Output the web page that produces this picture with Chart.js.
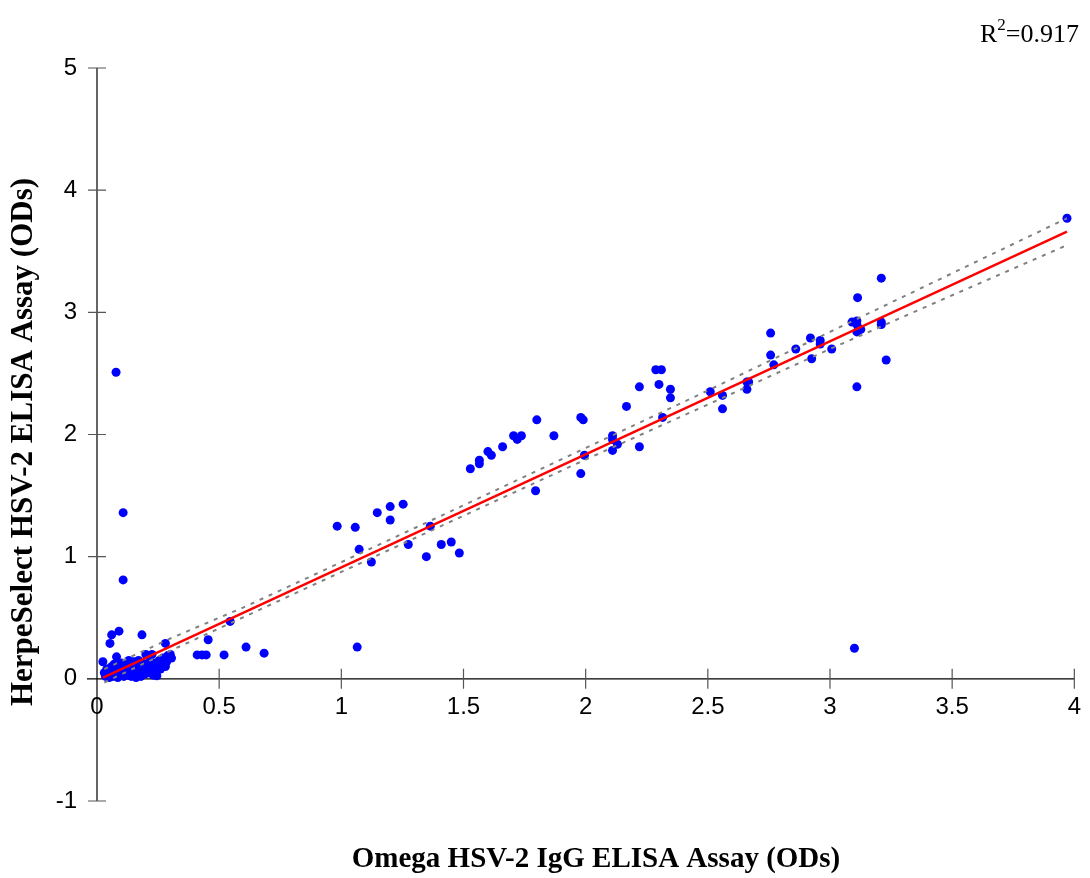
<!DOCTYPE html>
<html>
<head>
<meta charset="utf-8">
<title>HerpeSelect vs Omega HSV-2</title>
<script src="https://cdn.jsdelivr.net/npm/chart.js@4.4.1/dist/chart.umd.min.js"></script>
<style>
    html, body { margin: 0; padding: 0; background: #fff; }
    #grafico { display: block; }
</style>
</head>
<body>
<canvas id="grafico" width="1090" height="878"></canvas>
<script>
//DATOS
const xTitulo = "Omega HSV-2 IgG ELISA Assay (ODs)";
const yTitulo = "HerpeSelect HSV-2 ELISA Assay (ODs)";
const r2Valor = "=0.917";

const xTicks = [0, 0.5, 1, 1.5, 2, 2.5, 3, 3.5, 4];
const yTicks = [-1, 0, 1, 2, 3, 4, 5];

// nube de muestras negativas cerca del origen
const clusterX = [0.03,0.035,0.04,0.045,0.05,0.05,0.055,0.06,0.06,0.065,0.07,0.07,0.075,0.08,0.08,0.085,0.09,0.09,0.095,0.10,0.10,0.105,0.11,0.11,0.115,0.12,0.12,0.125,0.13,0.13,0.135,0.14,0.14,0.145,0.15,0.15,0.155,0.16,0.16,0.165,0.17,0.175,0.18,0.18,0.185,0.19,0.195,0.20,0.20,0.205,0.21,0.215,0.22,0.225,0.23,0.235,0.24,0.245,0.25,0.255,0.26,0.265,0.27,0.28,0.285,0.29,0.30,0.305];
const clusterY = [0.05,0.02,0.08,0.03,0.06,0.01,0.09,0.04,0.10,0.02,0.07,0.12,0.03,0.05,0.09,0.01,0.11,0.06,0.03,0.08,0.13,0.04,0.10,0.02,0.06,0.12,0.08,0.03,0.15,0.06,0.10,0.02,0.12,0.07,0.04,0.14,0.09,0.01,0.11,0.06,0.15,0.03,0.10,0.02,0.13,0.07,0.04,0.12,0.20,0.09,0.05,0.14,0.08,0.20,0.03,0.13,0.06,0.025,0.10,0.15,0.08,0.12,0.17,0.10,0.14,0.19,0.20,0.17];

const bajosX = [0.024,0.053,0.06,0.078,0.08,0.09,0.107,0.107,0.184,0.28,0.41,0.43,0.447,0.455,0.52,0.545,0.61,0.684];
const bajosY = [0.14,0.29,0.36,2.51,0.18,0.39,1.36,0.81,0.36,0.29,0.196,0.196,0.196,0.32,0.196,0.47,0.26,0.21];

const mediosX = [0.983,1.057,1.065,1.073,1.123,1.147,1.20,1.20,1.253,1.274,1.348,1.364,1.409,1.45,1.483,1.528,1.565,1.565,1.60,1.614,1.66,1.705,1.72,1.737,1.795,1.80,1.87,1.98,1.99,1.98,1.995,2.11,2.11,2.11,2.13];
const mediosY = [1.25,1.24,0.26,1.06,0.956,1.36,1.41,1.30,1.43,1.10,1.00,1.25,1.10,1.12,1.03,1.72,1.79,1.76,1.86,1.83,1.90,1.99,1.96,1.99,1.54,2.12,1.99,2.14,2.12,1.68,1.83,1.99,1.96,1.87,1.92];

const altosX = [2.167,2.22,2.22,2.287,2.31,2.30,2.347,2.347,2.315,2.51,2.56,2.56,2.66,2.667,2.66,2.757,2.757,2.77,2.86,2.92,2.925,2.96,2.96,3.007,3.09,3.11,3.113,3.11,3.11,3.126,3.11,3.10,3.21,3.21,3.21,3.23,3.97];
const altosY = [2.23,2.39,1.90,2.53,2.53,2.41,2.37,2.30,2.14,2.35,2.32,2.21,2.43,2.43,2.37,2.83,2.65,2.57,2.70,2.79,2.62,2.77,2.74,2.70,2.92,2.93,3.12,2.90,2.84,2.86,2.39,0.25,3.28,2.92,2.90,2.61,3.77];

// recta de regresion y bandas de confianza
const regresionX = [0.025, 3.97];
const regresionY = [0.01, 3.66];
const bandaX = [0.03, 0.3, 0.6, 1.0, 1.5, 2.0, 2.5, 3.0, 3.5, 3.97];
const bandaSup = [0.08, 0.33, 0.585, 0.955, 1.42, 1.89, 2.36, 2.84, 3.32, 3.77];
const bandaInf = [-0.03, 0.23, 0.505, 0.875, 1.335, 1.795, 2.245, 2.70, 3.14, 3.55];

//FUNCIONES
function juntar(xs, ys) {
    let puntos = [];
    for (let i = 0; i < xs.length; i++) {
        puntos.push({ x: xs[i], y: ys[i] });
    }
    return puntos;
}

const muestras = juntar(clusterX, clusterY)
    .concat(juntar(bajosX, bajosY))
    .concat(juntar(mediosX, mediosY))
    .concat(juntar(altosX, altosY));

const serif = "'Liberation Serif', 'Times New Roman', serif";

// ejes que se cruzan en el origen, con marcas a ambos lados
const ejesCruzados = {
    id: "ejesCruzados",
    beforeDatasetsDraw(chart) {
        const { ctx, scales } = chart;
        const x0 = scales.x.getPixelForValue(0);
        const y0 = scales.y.getPixelForValue(0);
        ctx.save();
        ctx.strokeStyle = "#000";
        ctx.lineWidth = 1.2;
        ctx.beginPath();
        ctx.moveTo(x0 - 10, y0);
        ctx.lineTo(scales.x.right, y0);
        ctx.moveTo(x0, scales.y.top);
        ctx.lineTo(x0, scales.y.bottom);
        ctx.stroke();

        ctx.strokeStyle = "#555";
        ctx.beginPath();
        scales.x.ticks.forEach(t => {
            const p = scales.x.getPixelForValue(t.value);
            if (t.value === 0) return;
            ctx.moveTo(p, y0 - 10);
            ctx.lineTo(p, y0 + 10);
        });
        scales.y.ticks.forEach(t => {
            const p = scales.y.getPixelForValue(t.value);
            if (t.value === 0) return;
            ctx.moveTo(x0 - 9, p);
            ctx.lineTo(x0 + 9, p);
        });
        ctx.stroke();
        ctx.restore();
    },
    afterDraw(chart) {
        const { ctx } = chart;
        ctx.save();
        ctx.fillStyle = "#000";
        ctx.textAlign = "center";
        ctx.textBaseline = "middle";
        ctx.font = "bold 29px " + serif;
        ctx.fillText(xTitulo, 596, 860);

        ctx.translate(24, 442);
        ctx.rotate(-Math.PI / 2);
        ctx.font = "bold 31px " + serif;
        ctx.fillText(yTitulo, 0, 0);
        ctx.restore();

        ctx.save();
        ctx.fillStyle = "#000";
        ctx.textBaseline = "alphabetic";
        ctx.textAlign = "left";
        ctx.font = "26px " + serif;
        let xr = 980;
        ctx.fillText("R", xr, 42);
        xr += ctx.measureText("R").width;
        ctx.font = "17px " + serif;
        ctx.fillText("2", xr, 30);
        xr += ctx.measureText("2").width;
        ctx.font = "26px " + serif;
        ctx.fillText(r2Valor, xr, 42);
        ctx.restore();
    }
};

//GRAFICO
const config = {
    type: "scatter",
    data: {
        datasets: [
            {
                label: "Regresion",
                data: juntar(regresionX, regresionY),
                showLine: true,
                borderColor: "#ff0000",
                borderWidth: 2.4,
                pointRadius: 0,
                order: 0
            },
            {
                label: "Banda superior",
                data: juntar(bandaX, bandaSup),
                showLine: true,
                borderColor: "#808080",
                borderWidth: 2,
                borderDash: [4, 6],
                pointRadius: 0,
                order: 1
            },
            {
                label: "Banda inferior",
                data: juntar(bandaX, bandaInf),
                showLine: true,
                borderColor: "#808080",
                borderWidth: 2,
                borderDash: [4, 6],
                pointRadius: 0,
                order: 1
            },
            {
                label: "Muestras",
                data: muestras,
                backgroundColor: "#0000ff",
                borderColor: "#0000ff",
                borderWidth: 0,
                pointRadius: 4.5,
                order: 2
            }
        ]
    },
    options: {
        responsive: false,
        animation: false,
        layout: { padding: { top: 68, right: 9, bottom: 77, left: 0 } },
        plugins: {
            legend: { display: false },
            tooltip: { enabled: false }
        },
        scales: {
            x: {
                type: "linear",
                position: { y: 0 },
                min: 0,
                max: 4,
                afterBuildTicks: s => { s.ticks = xTicks.map(v => ({ value: v })); },
                grid: { display: false, drawTicks: false },
                border: { display: false },
                ticks: {
                    color: "#000",
                    font: { family: "'Liberation Sans', Arial, sans-serif", size: 24, lineHeight: 1.65 },
                    padding: 9,
                    maxRotation: 0,
                    callback: v => String(v)
                }
            },
            y: {
                type: "linear",
                position: "left",
                min: -1,
                max: 5,
                afterBuildTicks: s => { s.ticks = yTicks.map(v => ({ value: v })); },
                afterFit: s => { s.width = 97; },
                grid: { display: false, drawTicks: false },
                border: { display: false },
                ticks: {
                    color: "#000",
                    font: { family: "'Liberation Sans', Arial, sans-serif", size: 24 },
                    padding: 20,
                    callback: v => String(v)
                }
            }
        }
    },
    plugins: [ejesCruzados]
};

const grafico = new Chart(document.getElementById("grafico"), config);
</script>
</body>
</html>
